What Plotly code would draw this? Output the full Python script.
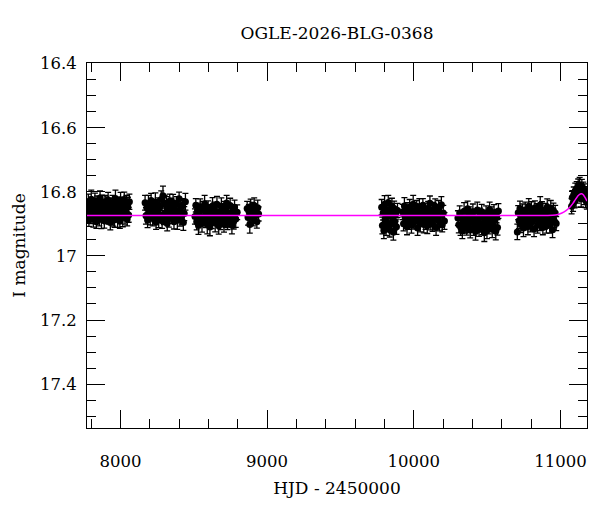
import plotly.graph_objects as go

# OGLE photometry: (HJD-2450000, I mag, error)
season1 = [(7776, 16.869, 0.022), (7781, 16.832, 0.025), (7785, 16.888, 0.020), (7790, 16.849, 0.027),
           (7796, 16.860, 0.021), (7801, 16.823, 0.028), (7806, 16.876, 0.023), (7810, 16.842, 0.019),
           (7815, 16.884, 0.026), (7821, 16.855, 0.022), (7826, 16.828, 0.024), (7830, 16.865, 0.030),
           (7836, 16.893, 0.021), (7841, 16.838, 0.025), (7845, 16.871, 0.018), (7850, 16.846, 0.023),
           (7856, 16.879, 0.027), (7861, 16.819, 0.022), (7866, 16.862, 0.020), (7870, 16.886, 0.029),
           (7875, 16.834, 0.024), (7881, 16.867, 0.021), (7886, 16.851, 0.026), (7890, 16.890, 0.023),
           (7896, 16.830, 0.019), (7901, 16.874, 0.025), (7905, 16.844, 0.028), (7911, 16.859, 0.022),
           (7916, 16.826, 0.024), (7920, 16.881, 0.020), (7926, 16.848, 0.027), (7931, 16.896, 0.023),
           (7935, 16.840, 0.021), (7940, 16.864, 0.026), (7946, 16.833, 0.022), (7951, 16.877, 0.030),
           (7956, 16.853, 0.019), (7960, 16.887, 0.024), (7966, 16.821, 0.026), (7971, 16.870, 0.021),
           (7975, 16.845, 0.023), (7981, 16.883, 0.028), (7986, 16.837, 0.020), (7990, 16.858, 0.025),
           (7996, 16.892, 0.022), (8001, 16.829, 0.027), (8006, 16.866, 0.021), (8011, 16.841, 0.024),
           (8016, 16.880, 0.029), (8021, 16.850, 0.020), (8026, 16.824, 0.023), (8031, 16.875, 0.026),
           (8036, 16.861, 0.022), (8041, 16.836, 0.025), (8046, 16.885, 0.021), (8051, 16.847, 0.030),
           (8056, 16.872, 0.023), (8061, 16.831, 0.024)]

season2 = [(8168, 16.834, 0.023), (8174, 16.875, 0.026), (8180, 16.850, 0.021), (8185, 16.888, 0.024),
           (8191, 16.839, 0.028), (8197, 16.864, 0.020), (8203, 16.878, 0.025), (8209, 16.827, 0.022),
           (8214, 16.853, 0.027), (8220, 16.883, 0.023), (8226, 16.844, 0.019), (8232, 16.869, 0.025),
           (8238, 16.832, 0.029), (8243, 16.895, 0.022), (8249, 16.861, 0.024), (8255, 16.840, 0.021),
           (8261, 16.886, 0.026), (8267, 16.848, 0.023), (8272, 16.873, 0.020), (8278, 16.824, 0.027),
           (8284, 16.890, 0.024), (8290, 16.812, 0.030), (8296, 16.880, 0.022), (8301, 16.836, 0.025),
           (8307, 16.867, 0.021), (8313, 16.843, 0.028), (8319, 16.899, 0.023), (8325, 16.851, 0.020),
           (8330, 16.884, 0.026), (8336, 16.829, 0.022), (8342, 16.862, 0.024), (8348, 16.847, 0.027),
           (8354, 16.877, 0.021), (8359, 16.833, 0.025), (8365, 16.893, 0.023), (8371, 16.854, 0.019),
           (8377, 16.870, 0.026), (8383, 16.837, 0.022), (8388, 16.889, 0.028), (8394, 16.865, 0.024),
           (8400, 16.822, 0.021), (8406, 16.882, 0.025), (8412, 16.849, 0.023), (8417, 16.874, 0.027),
           (8423, 16.841, 0.020), (8429, 16.896, 0.024), (8435, 16.868, 0.022), (8443, 16.831, 0.026)]

season3 = [(8508, 16.877, 0.024), (8514, 16.842, 0.021), (8520, 16.893, 0.026), (8526, 16.858, 0.023),
           (8532, 16.905, 0.028), (8538, 16.869, 0.020), (8544, 16.847, 0.025), (8550, 16.884, 0.022),
           (8556, 16.899, 0.027), (8562, 16.853, 0.023), (8568, 16.880, 0.019), (8574, 16.837, 0.026),
           (8580, 16.888, 0.024), (8586, 16.866, 0.021), (8592, 16.902, 0.029), (8598, 16.850, 0.022),
           (8604, 16.873, 0.025), (8610, 16.910, 0.027), (8616, 16.860, 0.020), (8622, 16.891, 0.024),
           (8628, 16.844, 0.026), (8634, 16.882, 0.022), (8640, 16.855, 0.023), (8646, 16.897, 0.028),
           (8652, 16.871, 0.021), (8658, 16.839, 0.025), (8664, 16.886, 0.022), (8670, 16.906, 0.026),
           (8676, 16.863, 0.020), (8682, 16.894, 0.024), (8688, 16.846, 0.027), (8694, 16.875, 0.023),
           (8700, 16.857, 0.021), (8706, 16.901, 0.025), (8712, 16.852, 0.022), (8718, 16.883, 0.029),
           (8724, 16.835, 0.024), (8730, 16.896, 0.022), (8736, 16.867, 0.026), (8742, 16.889, 0.020),
           (8748, 16.843, 0.023), (8754, 16.878, 0.025), (8760, 16.904, 0.027), (8766, 16.861, 0.021),
           (8772, 16.892, 0.024), (8778, 16.848, 0.022), (8786, 16.885, 0.026), (8796, 16.864, 0.023)]

season4 = [(8864, 16.852, 0.022), (8870, 16.880, 0.024), (8876, 16.861, 0.021), (8882, 16.902, 0.027),
           (8888, 16.846, 0.023), (8894, 16.871, 0.020), (8900, 16.858, 0.025), (8906, 16.884, 0.022),
           (8912, 16.843, 0.024), (8918, 16.875, 0.021), (8924, 16.866, 0.023), (8930, 16.893, 0.020),
           (8936, 16.850, 0.024), (8942, 16.869, 0.022)]

season5 = [(9781, 16.848, 0.024), (9786, 16.905, 0.026), (9791, 16.866, 0.022), (9796, 16.921, 0.025),
           (9801, 16.839, 0.027), (9806, 16.887, 0.021), (9811, 16.912, 0.024), (9816, 16.855, 0.023),
           (9821, 16.897, 0.026), (9826, 16.833, 0.022), (9831, 16.874, 0.025), (9836, 16.918, 0.023),
           (9841, 16.861, 0.021), (9846, 16.901, 0.027), (9851, 16.844, 0.024), (9856, 16.884, 0.022),
           (9861, 16.926, 0.025), (9866, 16.852, 0.023), (9871, 16.893, 0.026), (9876, 16.870, 0.021),
           (9882, 16.909, 0.024), (9889, 16.858, 0.022)]

season6 = [(9924, 16.863, 0.024), (9930, 16.900, 0.022), (9936, 16.844, 0.026), (9942, 16.883, 0.023),
           (9948, 16.872, 0.021), (9954, 16.909, 0.025), (9960, 16.856, 0.022), (9966, 16.890, 0.027),
           (9972, 16.848, 0.024), (9978, 16.877, 0.020), (9984, 16.904, 0.025), (9990, 16.867, 0.023),
           (9996, 16.839, 0.028), (10002, 16.894, 0.022), (10008, 16.861, 0.024), (10014, 16.886, 0.021),
           (10020, 16.853, 0.026), (10026, 16.913, 0.023), (10032, 16.870, 0.020), (10038, 16.846, 0.025),
           (10044, 16.898, 0.027), (10050, 16.865, 0.022), (10056, 16.881, 0.024), (10062, 16.842, 0.021),
           (10068, 16.902, 0.026), (10074, 16.858, 0.023), (10080, 16.888, 0.029), (10086, 16.873, 0.022),
           (10092, 16.906, 0.024), (10098, 16.851, 0.021), (10104, 16.884, 0.025), (10110, 16.836, 0.023),
           (10116, 16.892, 0.027), (10122, 16.868, 0.020), (10128, 16.899, 0.024), (10134, 16.855, 0.022),
           (10140, 16.879, 0.026), (10146, 16.845, 0.023), (10152, 16.911, 0.025), (10158, 16.862, 0.021),
           (10164, 16.887, 0.024), (10170, 16.849, 0.022), (10176, 16.895, 0.027), (10182, 16.874, 0.023),
           (10188, 16.840, 0.025), (10194, 16.903, 0.022), (10201, 16.866, 0.024), (10209, 16.891, 0.026)]

season7 = [(10301, 16.882, 0.023), (10307, 16.903, 0.025), (10313, 16.866, 0.022), (10319, 16.910, 0.026),
           (10325, 16.879, 0.021), (10331, 16.922, 0.024), (10337, 16.896, 0.023), (10343, 16.861, 0.027),
           (10349, 16.907, 0.022), (10355, 16.885, 0.025), (10361, 16.914, 0.021), (10367, 16.853, 0.024),
           (10373, 16.901, 0.026), (10379, 16.870, 0.023), (10385, 16.919, 0.025), (10391, 16.875, 0.022),
           (10397, 16.893, 0.020), (10403, 16.864, 0.026), (10409, 16.912, 0.024), (10415, 16.881, 0.022),
           (10421, 16.924, 0.027), (10427, 16.904, 0.023), (10433, 16.857, 0.025), (10439, 16.889, 0.021),
           (10445, 16.915, 0.024), (10451, 16.873, 0.022), (10457, 16.900, 0.026), (10463, 16.862, 0.023),
           (10469, 16.909, 0.025), (10475, 16.878, 0.021), (10481, 16.928, 0.027), (10487, 16.891, 0.023),
           (10493, 16.868, 0.024), (10499, 16.920, 0.026), (10505, 16.884, 0.022), (10511, 16.906, 0.025),
           (10517, 16.855, 0.023), (10523, 16.898, 0.021), (10529, 16.871, 0.024), (10535, 16.917, 0.026),
           (10541, 16.902, 0.022), (10547, 16.865, 0.025), (10553, 16.887, 0.023), (10559, 16.923, 0.027),
           (10565, 16.876, 0.021), (10571, 16.911, 0.024), (10577, 16.860, 0.023)]

season8 = [(10706, 16.925, 0.024), (10712, 16.865, 0.022), (10718, 16.890, 0.025), (10724, 16.852, 0.023),
           (10730, 16.901, 0.026), (10736, 16.876, 0.021), (10742, 16.862, 0.024), (10748, 16.913, 0.027),
           (10754, 16.887, 0.022), (10760, 16.857, 0.025), (10766, 16.896, 0.023), (10772, 16.871, 0.020),
           (10778, 16.908, 0.026), (10784, 16.845, 0.024), (10790, 16.879, 0.022), (10796, 16.900, 0.025),
           (10802, 16.854, 0.023), (10808, 16.892, 0.027), (10814, 16.867, 0.021), (10820, 16.916, 0.024),
           (10826, 16.850, 0.022), (10832, 16.884, 0.026), (10838, 16.860, 0.023), (10844, 16.904, 0.025),
           (10850, 16.873, 0.021), (10856, 16.897, 0.024), (10862, 16.841, 0.026), (10868, 16.889, 0.022),
           (10874, 16.856, 0.025), (10880, 16.911, 0.023), (10886, 16.878, 0.021), (10892, 16.893, 0.024),
           (10898, 16.863, 0.027), (10904, 16.907, 0.022), (10910, 16.847, 0.025), (10916, 16.886, 0.023),
           (10922, 16.870, 0.020), (10928, 16.903, 0.026), (10934, 16.851, 0.024), (10940, 16.875, 0.022),
           (10946, 16.918, 0.025), (10952, 16.858, 0.023), (10958, 16.891, 0.021), (10964, 16.866, 0.024),
           (10971, 16.899, 0.022)]

season9 = [(11076, 16.845, 0.024), (11081, 16.818, 0.022), (11086, 16.836, 0.025), (11091, 16.808, 0.023),
           (11096, 16.829, 0.021), (11101, 16.797, 0.024), (11106, 16.822, 0.026), (11111, 16.790, 0.022),
           (11116, 16.812, 0.023), (11121, 16.785, 0.025), (11126, 16.806, 0.021), (11131, 16.779, 0.024),
           (11136, 16.801, 0.022), (11141, 16.822, 0.025), (11146, 16.784, 0.023), (11151, 16.808, 0.021),
           (11156, 16.794, 0.024), (11161, 16.818, 0.022), (11166, 16.800, 0.025), (11171, 16.826, 0.023),
           (11176, 16.805, 0.021), (11180, 16.830, 0.024)]

seasons = [season1, season2, season3, season4, season5, season6, season7, season8, season9]

# microlensing model curve
model_hjd = [7772, 9000, 10000, 10800, 10900, 10968, 11010, 11040, 11064, 11085, 11105, 11125, 11145, 11160, 11172, 11181]
model_mag = [16.874, 16.874, 16.874, 16.874, 16.874, 16.872, 16.866, 16.858, 16.848, 16.836, 16.822, 16.810, 16.806, 16.812, 16.821, 16.829]

FONT = "DejaVu Serif"

fig = go.Figure()

for s in seasons:
    t, m, e = zip(*s)
    fig.add_trace(go.Scatter(
        x=t, y=m, mode="markers",
        marker=dict(color="black", size=7),
        error_y=dict(type="data", array=e, color="black", thickness=1.3, width=3),
        showlegend=False,
    ))

fig.add_trace(go.Scatter(
    x=model_hjd, y=model_mag, mode="lines",
    line=dict(color="#ff00ff", width=1.5, shape="spline"),
    showlegend=False,
))

axis_common = dict(
    showline=True, linecolor="black", linewidth=1, mirror="ticks",
    ticks="inside", ticklen=18, tickwidth=1, tickcolor="black",
    showgrid=False, zeroline=False, automargin=False,
    tickfont=dict(family=FONT, size=16.5, color="black"),
)

fig.update_xaxes(
    range=[7772, 11181], tick0=0, dtick=1000, tickformat="d",
    minor=dict(ticks="inside", ticklen=9, dtick=200, tickcolor="black", showgrid=False),
    title=dict(text="HJD - 2450000", font=dict(family=FONT, size=17, color="black"), standoff=12),
    ticklabelstandoff=18,
    **axis_common,
)
fig.update_yaxes(
    range=[17.537, 16.398], tick0=16.4, dtick=0.2,
    minor=dict(ticks="inside", ticklen=9, dtick=0.05, tickcolor="black", showgrid=False),
    title=dict(text="I magnitude", font=dict(family=FONT, size=17, color="black"), standoff=10),
    ticklabelstandoff=6,
    **axis_common,
)

fig.update_layout(
    width=600, height=512,
    margin=dict(l=87, r=13, t=63, b=84),
    paper_bgcolor="white", plot_bgcolor="white",
    title=dict(text="OGLE-2026-BLG-0368", x=0.5, xref="paper", y=1 - 33 / 512, yref="container",
               yanchor="middle", font=dict(family=FONT, size=17, color="black")),
)

# drop the default page margin so the figure sits at the window corner
fig.write_html("out.html", config={"displayModeBar": False},
               post_script="document.body.style.margin='0';")
